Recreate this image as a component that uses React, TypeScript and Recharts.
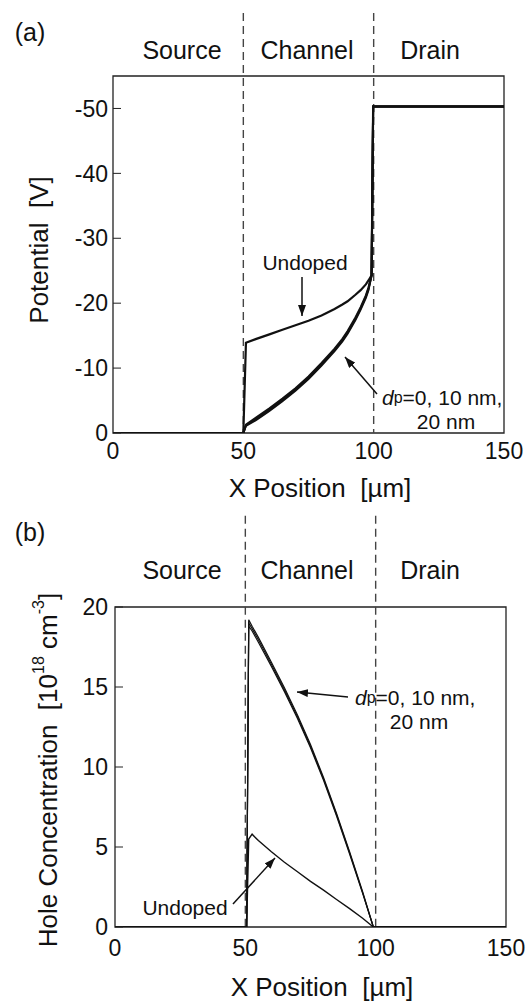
import React from "react";
import { LineChart, Line, XAxis, YAxis, ReferenceLine, ReferenceArea } from "recharts";

// (a) potential along the device, x in µm, V
const positionA = [0, 50, 51, 55, 60, 65, 70, 75, 80, 85, 88, 90, 93, 95, 97, 98, 99.2, 99.8, 150];
const potentialUndoped = [0, 0, -13.9, -14.5, -15.2, -15.9, -16.6, -17.3, -18.1, -19.1, -19.8, -20.3, -21.3, -22.0, -22.9, -23.5, -24.3, -50.3, -50.3];
const potentialDp0 = [0, 0, -1.1, -2.0, -3.4, -4.9, -6.5, -8.3, -10.4, -12.6, -14.1, -15.3, -17.4, -19.0, -20.8, -22.0, -24.3, -50.3, -50.3];
const potentialDp10 = [0, 0, -1.2, -2.2, -3.6, -5.1, -6.7, -8.5, -10.6, -12.8, -14.3, -15.5, -17.6, -19.2, -21.0, -22.2, -24.3, -50.3, -50.3];
const potentialDp20 = [0, 0, -1.3, -2.4, -3.8, -5.3, -6.9, -8.7, -10.8, -13.0, -14.5, -15.7, -17.8, -19.4, -21.2, -22.4, -24.3, -50.3, -50.3];

// (b) hole concentration, 1e18 cm^-3
const positionB = [0, 50, 50.5, 51.3, 52.6, 55, 60, 65, 70, 75, 80, 85, 90, 95, 99.1, 100, 150];
const holeUndoped = [0, 0, 0, 5.5, 5.8, 5.4, 4.7, 4.05, 3.45, 2.85, 2.3, 1.72, 1.15, 0.55, 0, 0, 0];
const holeDp0 = [0, 0, 0, 19.2, 18.8, 18.1, 16.55, 14.95, 13.25, 11.4, 9.35, 7.1, 4.7, 2.2, 0, 0, 0];
const holeDp10 = [0, 0, 0, 19.0, 18.65, 17.95, 16.42, 14.83, 13.14, 11.3, 9.26, 7.02, 4.63, 2.15, 0, 0, 0];
const holeDp20 = [0, 0, 0, 18.8, 18.5, 17.8, 16.29, 14.71, 13.03, 11.2, 9.17, 6.94, 4.56, 2.1, 0, 0, 0];

const xTicks = [0, 50, 100, 150];
const potentialTicks = [-50, -40, -30, -20, -10, 0];
const holeTicks = [0, 5, 10, 15, 20];
const boundaries = [50, 100];
const regions = [
  { name: "Source", x: 182 },
  { name: "Channel", x: 307 },
  { name: "Drain", x: 430 },
];

const FONT = '"Liberation Sans", Arial, Helvetica, sans-serif';
const INK = "#111";
const FRAME = "#222";

const dataA = positionA.map((x, i) => ({
  x,
  undoped: potentialUndoped[i],
  dp0: potentialDp0[i],
  dp10: potentialDp10[i],
  dp20: potentialDp20[i],
}));

const dataB = positionB.map((x, i) => ({
  x,
  undoped: holeUndoped[i],
  dp0: holeDp0[i],
  dp10: holeDp10[i],
  dp20: holeDp20[i],
}));

const tickStyle = { fontSize: 23, fill: INK, fontFamily: FONT };

function PotentialChart() {
  return (
    <LineChart width={528} height={500} data={dataA} margin={{ top: 76, right: 24, bottom: 37, left: 53 }}>
      <XAxis
        dataKey="x"
        type="number"
        domain={[0, 150]}
        ticks={xTicks}
        allowDataOverflow
        axisLine={false}
        tickLine={false}
        tickSize={0}
        tickMargin={10}
        height={30}
        tick={tickStyle}
      />
      <YAxis
        type="number"
        domain={[-55, 0]}
        reversed
        ticks={potentialTicks}
        allowDataOverflow
        width={60}
        axisLine={false}
        stroke={FRAME}
        tickSize={-8}
        tickMargin={13}
        tick={tickStyle}
      />
      <YAxis
        yAxisId="r"
        orientation="right"
        mirror
        type="number"
        domain={[-55, 0]}
        reversed
        ticks={potentialTicks}
        width={0}
        axisLine={false}
        stroke={FRAME}
        tick={false}
        tickSize={8}
      />
      <ReferenceArea x1={0} x2={150} y1={-55} y2={0} fill="none" fillOpacity={0} stroke={FRAME} strokeWidth={1.3} />
      {boundaries.map((b) => (
        <ReferenceLine
          key={b}
          segment={[{ x: b, y: -64.7 }, { x: b, y: 0 }]}
          ifOverflow="visible"
          stroke="#444"
          strokeWidth={1.4}
          strokeDasharray="8 5"
        />
      ))}
      <Line dataKey="undoped" type="linear" stroke={INK} strokeWidth={2.2} dot={false} isAnimationActive={false} />
      <Line dataKey="dp0" type="linear" stroke={INK} strokeWidth={2} dot={false} isAnimationActive={false} />
      <Line dataKey="dp10" type="linear" stroke={INK} strokeWidth={2} dot={false} isAnimationActive={false} />
      <Line dataKey="dp20" type="linear" stroke={INK} strokeWidth={2} dot={false} isAnimationActive={false} />
    </LineChart>
  );
}

function HoleChart() {
  return (
    <LineChart width={528} height={501} data={dataB} margin={{ top: 107, right: 22, bottom: 44, left: 55 }}>
      <XAxis
        dataKey="x"
        type="number"
        domain={[0, 150]}
        ticks={xTicks}
        allowDataOverflow
        axisLine={false}
        tickLine={false}
        tickSize={0}
        tickMargin={13}
        height={30}
        tick={tickStyle}
      />
      <YAxis
        type="number"
        domain={[0, 20]}
        ticks={holeTicks}
        allowDataOverflow
        width={60}
        axisLine={false}
        stroke={FRAME}
        tickSize={-8}
        tickMargin={15}
        tick={tickStyle}
      />
      <YAxis
        yAxisId="r"
        orientation="right"
        mirror
        type="number"
        domain={[0, 20]}
        ticks={holeTicks}
        width={0}
        axisLine={false}
        stroke={FRAME}
        tick={false}
        tickSize={8}
      />
      <ReferenceArea x1={0} x2={150} y1={0} y2={20} fill="none" fillOpacity={0} stroke={FRAME} strokeWidth={1.3} />
      {boundaries.map((b) => (
        <ReferenceLine
          key={b}
          segment={[{ x: b, y: 25.7 }, { x: b, y: 0 }]}
          ifOverflow="visible"
          stroke="#444"
          strokeWidth={1.4}
          strokeDasharray="8 5"
        />
      ))}
      <Line dataKey="undoped" type="linear" stroke={INK} strokeWidth={1.4} dot={false} isAnimationActive={false} />
      <Line dataKey="dp0" type="linear" stroke={INK} strokeWidth={1.2} dot={false} isAnimationActive={false} />
      <Line dataKey="dp10" type="linear" stroke={INK} strokeWidth={1.2} dot={false} isAnimationActive={false} />
      <Line dataKey="dp20" type="linear" stroke={INK} strokeWidth={1.2} dot={false} isAnimationActive={false} />
    </LineChart>
  );
}

function DpLabel({ x, y }: { x: number; y: number }) {
  return (
    <>
      <text x={x} y={y} fontSize={21} dominantBaseline="central">
        <tspan fontStyle="italic">d</tspan>
        <tspan fontSize={16}>p</tspan>
        <tspan>=0, 10 nm,</tspan>
      </text>
      <text x={x + 64} y={y + 24} fontSize={21} textAnchor="middle" dominantBaseline="central">
        20 nm
      </text>
    </>
  );
}

function Annotations() {
  return (
    <svg
      width={528}
      height={1001}
      style={{ position: "absolute", left: 0, top: 0, pointerEvents: "none", fontFamily: FONT }}
      fill={INK}
    >
      <defs>
        <marker id="head" markerUnits="userSpaceOnUse" markerWidth={11} markerHeight={8} refX={11} refY={4} orient="auto">
          <path d="M0,0 L11,4 L0,8 z" fill={INK} />
        </marker>
      </defs>

      {/* panel labels and regions */}
      <text x={30} y={32} fontSize={25} textAnchor="middle" dominantBaseline="central">(a)</text>
      <text x={30} y={532} fontSize={25} textAnchor="middle" dominantBaseline="central">(b)</text>
      {regions.map((r) => (
        <React.Fragment key={r.name}>
          <text x={r.x} y={50} fontSize={25} textAnchor="middle" dominantBaseline="central">{r.name}</text>
          <text x={r.x} y={570} fontSize={25} textAnchor="middle" dominantBaseline="central">{r.name}</text>
        </React.Fragment>
      ))}

      {/* axis titles */}
      <text x={320} y={488} fontSize={26} textAnchor="middle" dominantBaseline="central" style={{ whiteSpace: "pre" }}>
        X Position  [µm]
      </text>
      <text x={322} y={987} fontSize={26} textAnchor="middle" dominantBaseline="central" style={{ whiteSpace: "pre" }}>
        X Position  [µm]
      </text>
      <text
        x={39}
        y={250}
        fontSize={26}
        textAnchor="middle"
        dominantBaseline="central"
        transform="rotate(-90 39 250)"
        style={{ whiteSpace: "pre" }}
      >
        Potential  [V]
      </text>
      <text
        x={48}
        y={770}
        fontSize={26}
        textAnchor="middle"
        dominantBaseline="central"
        transform="rotate(-90 48 770)"
        style={{ whiteSpace: "pre" }}
      >
        <tspan>Hole Concentration  [10</tspan>
        <tspan fontSize={16} dy={-10}>18</tspan>
        <tspan dy={10}> cm</tspan>
        <tspan fontSize={16} dy={-10}>-3</tspan>
        <tspan dy={10}>]</tspan>
      </text>

      {/* panel (a) annotations */}
      <text x={305} y={262} fontSize={21} textAnchor="middle" dominantBaseline="central">Undoped</text>
      <line x1={302} y1={277} x2={302} y2={316} stroke={INK} strokeWidth={1.5} markerEnd="url(#head)" />
      <DpLabel x={382} y={397} />
      <line x1={377} y1={394} x2={345} y2={357} stroke={INK} strokeWidth={1.5} markerEnd="url(#head)" />

      {/* panel (b) annotations */}
      <DpLabel x={355} y={697} />
      <line x1={348} y1={697} x2={297} y2={692} stroke={INK} strokeWidth={1.5} markerEnd="url(#head)" />
      <text x={185} y={907} fontSize={21} textAnchor="middle" dominantBaseline="central">Undoped</text>
      <line x1={233} y1={904} x2={275} y2={858} stroke={INK} strokeWidth={1.5} markerEnd="url(#head)" />
    </svg>
  );
}

export default function App() {
  return (
    <div
      style={{
        position: "absolute",
        left: 0,
        top: 0,
        width: 528,
        height: 1001,
        background: "#fff",
        fontFamily: FONT,
        overflow: "hidden",
      }}
    >
      <div style={{ position: "absolute", left: 0, top: 0 }}>
        <PotentialChart />
      </div>
      <div style={{ position: "absolute", left: 0, top: 500 }}>
        <HoleChart />
      </div>
      <Annotations />
    </div>
  );
}
